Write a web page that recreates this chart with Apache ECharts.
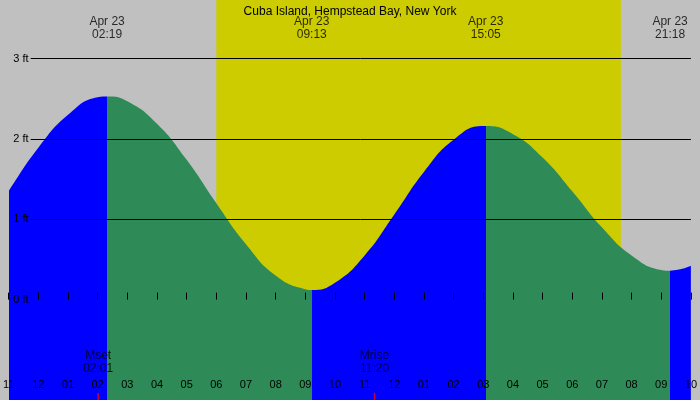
<!DOCTYPE html>
<html lang="en">
<head>
<meta charset="UTF-8">
<title>Tide chart</title>
<script src="https://cdn.jsdelivr.net/npm/echarts@6/dist/echarts.min.js"></script>
</head>
<body style="margin:0">
<div id="main" style="width:700px;height:400px;"></div>
<script>
// hours since midnight Apr 23, tide height in ft
var tideHours = [-1, -0.97, 0, 1, 2, 2.32, 3, 4, 5, 6, 7, 8, 9, 9.22, 10, 11, 12, 13, 14, 15, 15.08, 16, 17, 18, 19, 20, 21, 21.3, 22];
var tideFeet  = [1.34, 1.37, 1.89, 2.30, 2.52, 2.53, 2.47, 2.19, 1.74, 1.20, 0.69, 0.30, 0.13, 0.12, 0.21, 0.55, 1.06, 1.59, 1.99, 2.16, 2.16, 2.06, 1.77, 1.35, 0.90, 0.55, 0.37, 0.36, 0.42];
var extremeHours = [2.317, 9.217, 15.083, 21.3];
var extremeLabels = ['Apr 23\n02:19', 'Apr 23\n09:13', 'Apr 23\n15:05', 'Apr 23\n21:18'];
var daylight = [6.0, 19.64];
var moonHours = [2.017, 11.333];
var moonLabels = ['Mset\n02:01', 'Mrise\n11:20'];
var levelFeet = [0, 1, 2, 3];

var pieces = [];
var bounds = [-1].concat(extremeHours).concat([22]);
for (var i = 0; i < bounds.length - 1; i++) {
    pieces.push({ gte: bounds[i], lt: bounds[i + 1], color: i % 2 === 0 ? '#0000ff' : '#2e8b57' });
}

var myChart = echarts.init(document.getElementById('main'));
myChart.setOption({
    backgroundColor: '#c0c0c0',
    animation: false,
    textStyle: { fontFamily: 'Liberation Sans', color: '#000' },
    title: {
        text: 'Cuba Island, Hempstead Bay, New York',
        left: 'center', top: 1,
        textStyle: { fontSize: 12, fontWeight: 'normal', color: '#000', fontFamily: 'Liberation Sans' }
    },
    grid: { left: -1, right: -7.4, top: 0, bottom: 0 },
    xAxis: {
        type: 'value', min: -1, max: 22, interval: 1,
        splitLine: { show: false },
        axisLine: { show: false },
        axisTick: { inside: true, length: 7, lineStyle: { color: '#000' } },
        axisLabel: {
            inside: true, margin: 10, fontSize: 11, color: '#000',
            formatter: function (v) {
                var h = ((v % 12) + 12) % 12;
                if (h === 0) h = 12;
                return (h < 10 ? '0' : '') + h;
            }
        },
        z: 5
    },
    yAxis: { type: 'value', min: -1.25, max: 3.73, show: false, splitLine: { show: false } },
    visualMap: { show: false, type: 'piecewise', dimension: 0, seriesIndex: 1, pieces: pieces },
    series: [
        {
            type: 'line', data: [], z: 1, silent: true,
            markArea: {
                silent: true,
                itemStyle: { color: '#cccc00' },
                data: [[{ xAxis: daylight[0] }, { xAxis: daylight[1] }]]
            },
            markLine: {
                silent: true, symbol: 'none',
                label: { position: 'start', formatter: '{b}', fontSize: 11, color: '#000', distance: 2 },
                data: levelFeet.map(function (f) {
                    return [
                        { coord: [-0.26, f], name: f + ' ft', lineStyle: { color: f === 0 ? 'transparent' : '#000', width: 1, type: 'solid' } },
                        { coord: [22, f] }
                    ];
                })
            }
        },
        {
            type: 'line', z: 2, smooth: true, symbol: 'none',
            data: tideHours.map(function (h, i) { return [h, tideFeet[i]]; }),
            lineStyle: { width: 0 },
            areaStyle: { opacity: 1, origin: 'start' }
        },
        {
            type: 'scatter', z: 3, symbolSize: 0, silent: true,
            data: extremeHours.map(function (h, i) { return { value: [h, 3.38], name: extremeLabels[i] }; }),
            label: { show: true, position: 'inside', formatter: '{b}', fontSize: 12, color: '#000', lineHeight: 13 }
        },
        {
            type: 'scatter', z: 6, symbol: 'rect', symbolSize: [1.5, 7], silent: true,
            itemStyle: { color: '#ff0000' },
            data: moonHours.map(function (h, i) { return { value: [h, -1.205], name: moonLabels[i] }; }),
            label: { show: true, position: 'top', distance: 18, formatter: '{b}', fontSize: 12, color: '#000', lineHeight: 13 }
        }
    ]
});
</script>
</body>
</html>
